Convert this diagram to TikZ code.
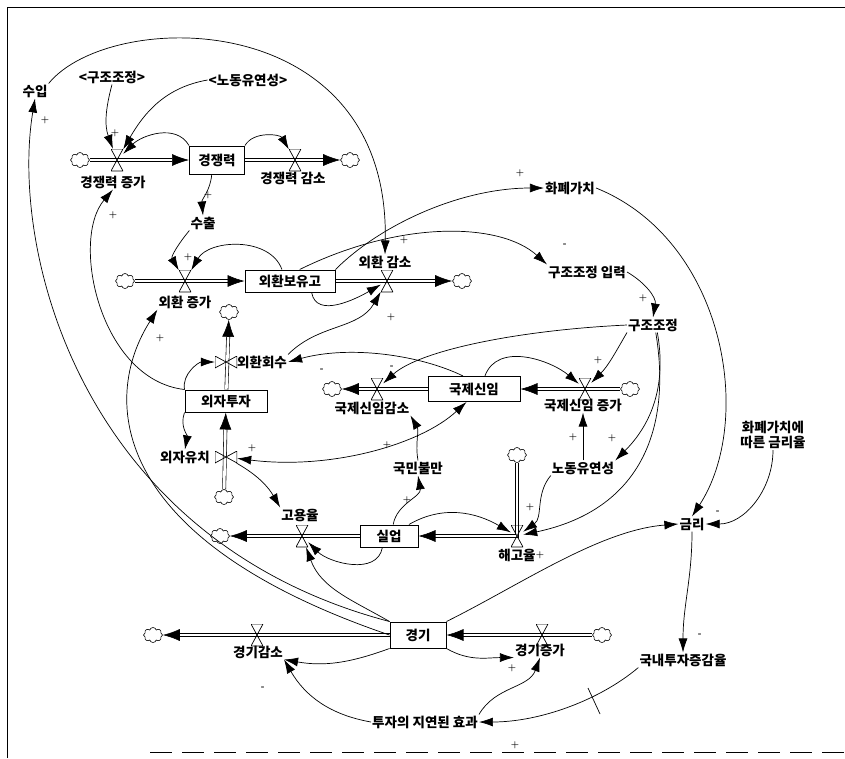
\documentclass[tikz,border=0pt]{standalone}
\usepackage{fontspec}
\newfontfamily\kr{Noto Sans CJK KR}
\usetikzlibrary{arrows.meta,shapes.symbols,backgrounds}

\tikzset{
  stock/.style={draw, line width=1pt, fill=white, inner sep=1pt, minimum height=22pt,
    font=\kr\bfseries\fontsize{13.5}{15}\selectfont},
  var/.style={inner sep=1pt, font=\kr\bfseries\fontsize{13.5}{15}\selectfont},
  src/.style={cloud, draw, cloud puffs=8, aspect=1.2, inner sep=0pt,
    minimum width=19pt, minimum height=15pt, line width=0.6pt},
  valve/.style={inner sep=0pt, minimum width=12pt, minimum height=22pt,
    path picture={\draw[line width=0.7pt] (path picture bounding box.north west)
      -- (path picture bounding box.north east) -- (path picture bounding box.south west)
      -- (path picture bounding box.south east) -- cycle;}},
  valvev/.style={inner sep=0pt, minimum width=22pt, minimum height=12pt,
    path picture={\draw[line width=0.7pt] (path picture bounding box.north west)
      -- (path picture bounding box.south west) -- (path picture bounding box.north east)
      -- (path picture bounding box.south east) -- cycle;}},
  pipe/.style={draw, line width=0.6pt, double distance=2.6pt, -{Latex[length=17pt,width=12pt]}},
  link/.style={line width=0.7pt, -{Latex[length=14pt,width=9pt]}},
  link2/.style={line width=0.7pt, {Latex[length=14pt,width=9pt]}-{Latex[length=14pt,width=9pt]}},
  sgn/.style={inner sep=0pt, font=\bfseries\small},
}

\begin{document}
\begin{tikzpicture}[x=1pt, y=1pt]
  \useasboundingbox (0,0) rectangle (845,-758);
  % frame
  \draw[line width=0.8pt] (7,-758) -- (7,-7) -- (845,-7);
  \draw[line width=0.8pt, dash pattern=on 22pt off 10pt] (150,-752) -- (845,-752);

  % stocks
  \node[stock, minimum width=55pt, minimum height=28pt] (kjr) at (217,-160) {경쟁력};
  \node[stock, minimum width=90pt] (whb) at (290,-281) {외환보유고};
  \node[stock, minimum width=82pt] (wjt) at (226,-401) {외자투자};
  \node[stock, minimum width=92pt, minimum height=25pt] (kjs) at (474,-389) {국제신임};
  \node[stock, minimum width=58pt] (sil) at (389,-536) {실업};
  \node[stock, minimum width=56pt, minimum height=26pt] (kyg) at (418,-635) {경기};

  % valves
  \node[valve] (vkz) at (117,-160) {};
  \node[valve] (vkg) at (295,-160) {};
  \node[valve] (vwz) at (185,-281) {};
  \node[valve] (vwg) at (387,-281) {};
  \node[valvev] (vwh) at (226,-362) {};
  \node[valvev] (vwy) at (226,-457) {};
  \node[valve] (vksg) at (377,-389) {};
  \node[valve] (vksz) at (585,-389) {};
  \node[valve] (vhg) at (517,-536) {};
  \node[valve] (vgy) at (302,-536) {};
  \node[valve] (vkyg) at (257,-635) {};
  \node[valve] (vkyz) at (542,-635) {};

  % clouds
  \node[src] (c1) at (80,-160) {};
  \node[src] (c2) at (350,-160) {};
  \node[src] (c3) at (125,-281) {};
  \node[src] (c4) at (462,-281) {};
  \node[src] (c5) at (229,-312) {};
  \node[src] (c6) at (224,-497) {};
  \node[src] (c7) at (332,-389) {};
  \node[src] (c8) at (630,-389) {};
  \node[src] (c9) at (517,-455) {};
  \node[src] (c10) at (220,-536) {};
  \node[src] (c11) at (153,-635) {};
  \node[src] (c12) at (602,-635) {};

  % variables
  \node[var] (suip) at (35,-91) {수입};
  \node[var] (gjz) at (112,-77) {<구조조정>};
  \node[var] (nd1) at (248,-80) {<노동유연성>};
  \node[var] (lkz) at (113,-182) {경쟁력 증가};
  \node[var] (lkg) at (293,-178) {경쟁력 감소};
  \node[var] (sc) at (203,-223) {수출};
  \node[var] (lwz) at (185,-302) {외환 증가};
  \node[var] (lwg) at (385,-262) {외환 감소};
  \node[var, anchor=west] (lwh) at (236,-362) {외환회수};
  \node[var, anchor=east] (lwy) at (211,-457) {외자유치};
  \node[var] (lksg) at (372,-408) {국제신임감소};
  \node[var] (lksz) at (583,-405) {국제신임 증가};
  \node[var] (nd2) at (583,-468) {노동유연성};
  \node[var] (lbm) at (418,-468) {국민불만};
  \node[var] (lgy) at (300,-515) {고용율};
  \node[var] (lhg) at (517,-555) {해고율};
  \node[var] (lkyg) at (258,-652) {경기감소};
  \node[var] (lkyz) at (540,-650) {경기증가};
  \node[var] (hp) at (570,-188) {화폐가치};
  \node[var] (gji) at (587,-272) {구조조정 입력};
  \node[var] (gjj) at (653,-325) {구조조정};
  \node[var, align=center] (hgr) at (773,-435) {화폐가치에\\따른 금리율};
  \node[var] (gr) at (692,-524) {금리};
  \node[var] (ntj) at (683,-660) {국내투자증감율};
  \node[var] (tje) at (425,-722) {투자의 지연된 효과};

  % flows
  \begin{scope}[on background layer]
    \draw[pipe] (c1) -- (kjr);
    \draw[pipe] (kjr) -- (c2);
    \draw[pipe] (c3) -- (whb);
    \draw[pipe] (whb) -- (c4);
    \draw[pipe] (wjt) -- (c5);
    \draw[pipe] (c6) -- (wjt);
    \draw[pipe] (c8) -- (kjs);
    \draw[pipe] (kjs) -- (c7);
    \draw[pipe] (c9) |- (sil);
    \draw[pipe] (sil) -- (c10);
    \draw[pipe] (kyg) -- (c11);
    \draw[pipe] (c12) -- (kyg);
  \end{scope}

  % links
  \draw[link] (kyg.north west) .. controls (80,-540) and (10,-250) .. (suip.south);
  \draw[link] (kyg.west) .. controls (110,-540) and (100,-400) .. (lwz.south west);
  \draw[link] (suip.north east) .. controls (110,-8) and (390,-5) .. (lwg.north);
  \draw[link] (gjz.south) to[out=-105, in=110] (vkz);
  \draw[link] (nd1.west) to[out=190, in=60] (vkz);
  \draw[link] (kjr.north west) to[out=120, in=45] (vkz);
  \draw[link] (kjr.north east) to[out=60, in=120] (vkg);
  \draw[link] (kjr.250) to[out=-95, in=95] (sc.north);
  \draw[link] (sc.south west) to[out=-130, in=120] (vwz);
  \draw[link] (whb.125) to[out=110, in=60] (vwz);
  \draw[link] (whb.-28) to[out=-80, in=-150] (vwg);
  \draw[link] (lwh.north east) to[out=45, in=-120] (vwg);
  \draw[link] (kjs.130) .. controls (420,-355) and (350,-345) .. (lwh.east);
  \draw[link] (gjj.west) .. controls (520,-330) and (420,-350) .. (vksg);
  \draw[link] (gjj.south west) to[out=-120, in=45] (vksz);
  \draw[link] (gjj.-60) to[out=-80, in=45] (nd2.north east);
  \draw[link] (gjj.-70) .. controls (672,-430) and (640,-510) .. (vhg);
  \draw[link] (nd2.north) -- (lksz.south);
  \draw[link] (nd2.south west) to[out=-130, in=35] (vhg);
  \draw[link] (kjs.50) to[out=70, in=140] (vksz);
  \draw[link2] (vwy) .. controls (330,-470) and (420,-445) .. (kjs.-120);
  \draw[link] (wjt.south west) to[out=-110, in=80] (lwy.north);
  \draw[link] (wjt.north west) to[out=100, in=180] (vwh);
  \draw[link] (wjt.north west) .. controls (100,-380) and (70,-240) .. (lkz.south);
  \draw[link] (vwy) to[out=-30, in=120] (lgy.north west);
  \draw[link] (sil.70) to[out=80, in=-80] (lbm.south);
  \draw[link] (sil.30) to[out=30, in=150] (vhg);
  \draw[link] (sil.-120) to[out=-100, in=-45] (vgy);
  \draw[link] (kyg.north west) to[out=150, in=-70] (vgy);
  \draw[link] (kyg.north east) .. controls (520,-585) and (600,-530) .. (gr.west);
  \draw[link] (lbm.north) to[out=100, in=-60] (lksg.south east);
  \draw[link] (whb.north east) .. controls (380,-225) and (460,-188) .. (hp.west);
  \draw[link] (whb.50) .. controls (400,-220) and (500,-222) .. (gji.north west);
  \draw[link] (gji.east) to[out=-30, in=80] (gjj.north);
  \draw[link] (hp.east) .. controls (725,-240) and (755,-420) .. (gr.north);
  \draw[link] (hgr.south) to[out=-90, in=0] (gr.east);
  \draw[link] (gr.south) to[out=-90, in=90] (ntj.north);
  \draw[link] (ntj.south west) .. controls (600,-700) and (540,-722) .. (tje.east);
  \draw[line width=0.7pt] (588,-688) -- (600,-714);
  \draw[link] (tje.west) to[out=170, in=-60] (lkyg.south east);
  \draw[link] (tje.north east) to[out=60, in=-110] (lkyz.south);
  \draw[link] (kyg.south west) to[out=-160, in=-10] (lkyg.south east);
  \draw[link] (kyg.south east) to[out=-30, in=180] (lkyz.south west);

  % polarities
  \node[sgn] (p1) at (45,-120) {+};
  \node[sgn] (p2) at (115,-133) {+};
  \node[sgn] (p3) at (208,-195) {+};
  \node[sgn] (p4) at (188,-257) {+};
  \node[sgn] (p5) at (404,-240) {+};
  \node[sgn] (p6) at (391,-317) {+};
  \node[sgn] (p7) at (113,-215) {+};
  \node[sgn] (p8) at (160,-338) {+};
  \node[sgn] (p9) at (520,-173) {+};
  \node[sgn] (p10) at (565,-245) {-};
  \node[sgn] (p11) at (643,-298) {+};
  \node[sgn] (p12) at (598,-360) {+};
  \node[sgn] (p13) at (392,-367) {-};
  \node[sgn] (p14) at (322,-370) {-};
  \node[sgn] (p15) at (612,-438) {+};
  \node[sgn] (p16) at (573,-437) {+};
  \node[sgn] (p17) at (530,-507) {+};
  \node[sgn] (p18) at (252,-448) {+};
  \node[sgn] (p19) at (387,-445) {+};
  \node[sgn] (p20) at (407,-500) {+};
  \node[sgn] (p21) at (718,-512) {-};
  \node[sgn] (p22) at (700,-635) {-};
  \node[sgn] (p23) at (515,-745) {+};
  \node[sgn] (p24) at (263,-688) {-};
  \node[sgn] (p25) at (512,-668) {+};
  \node[sgn] (p26) at (540,-555) {+};
\end{tikzpicture}
\end{document}
